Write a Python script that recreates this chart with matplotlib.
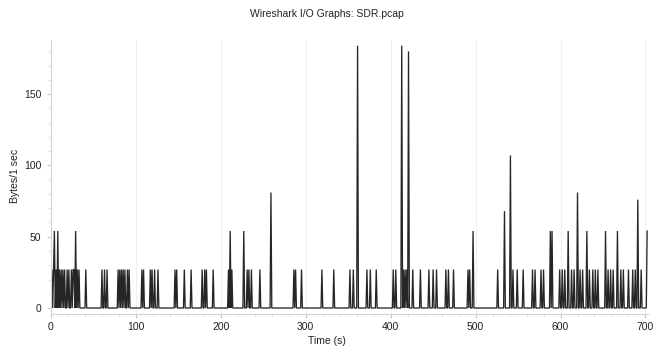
import numpy as np
import matplotlib
matplotlib.use("Agg")
import matplotlib.pyplot as plt

# Non-zero samples (time in s -> bytes per 1 s interval)
spike_times = [1, 3, 4, 6, 8, 10, 12, 14, 16, 19, 21, 24, 26, 27, 29, 31, 33, 41,
               60, 63, 66,
               79, 81, 83, 85, 87, 90, 92,
               107, 109, 117, 119, 122, 126,
               146, 148, 157, 165,
               178, 181, 183, 191,
               209, 211, 213,
               227, 231, 233, 236, 246, 259,
               286, 288, 295, 319, 333, 352, 356, 361,
               372, 376, 383, 403, 406, 413, 415, 417, 419, 421,
               426, 435, 445, 450, 454, 465, 468, 474, 491, 493, 497,
               526, 534, 541, 544, 549, 556, 567, 570, 577, 580, 588, 590,
               599, 602, 605, 609, 613, 616, 620, 623, 626, 631, 634, 638, 641, 644,
               653, 656, 659, 662, 667, 671, 674, 680, 685, 688, 691, 695, 702]
spike_values = [27, 27, 54, 27, 54, 27, 27, 27, 27, 27, 27, 27, 27, 27, 54, 27, 27, 27,
                27, 27, 27,
                27, 27, 27, 27, 27, 27, 27,
                27, 27, 27, 27, 27, 27,
                27, 27, 27, 27,
                27, 27, 27, 27,
                27, 54, 27,
                54, 27, 27, 27, 27, 81,
                27, 27, 27, 27, 27, 27, 27, 184,
                27, 27, 27, 27, 27, 184, 27, 27, 27, 180,
                27, 27, 27, 27, 27, 27, 27, 27, 27, 27, 54,
                27, 68, 107, 27, 27, 27, 27, 27, 27, 27, 54, 54,
                27, 27, 27, 54, 27, 27, 81, 27, 27, 54, 27, 27, 27, 27,
                54, 27, 27, 27, 54, 27, 27, 27, 27, 27, 76, 27, 54]
duration = 702  # last interval start (s)

title = "Wireshark I/O Graphs: SDR.pcap"
x_label = "Time (s)"
y_label = "Bytes/1 sec"
x_ticks = [0, 100, 200, 300, 400, 500, 600, 700]
y_ticks = [0, 50, 100, 150]

t = np.arange(duration + 1)
y = np.zeros(duration + 1)
y[spike_times] = spike_values

plt.rcParams['font.family'] = ['Liberation Sans', 'DejaVu Sans']
fig = plt.figure(figsize=(6.54, 3.47), dpi=100)
ax = fig.add_axes([51/654, 1 - 314/347, 597/654, (314 - 40)/347])

ax.plot(t, y, color='#262626', lw=0.95, solid_joinstyle='miter')
ax.set_xlim(0, 703)
ax.set_ylim(-4.2, 188)

ax.set_xticks(x_ticks)
ax.set_xticks(np.arange(0, 701, 20), minor=True)
ax.set_yticks(y_ticks)
ax.set_yticks(np.arange(0, 181, 10), minor=True)
ax.tick_params(axis='both', which='major', labelsize=7.5, color='#c8c8c8', length=3,
               labelcolor='#222222')
ax.tick_params(axis='both', which='minor', color='#dcdcdc', length=2)
ax.tick_params(axis='x', pad=3)
ax.tick_params(axis='y', pad=4)

for s in ['top', 'right']:
    ax.spines[s].set_visible(False)
for s in ['left', 'bottom']:
    ax.spines[s].set_color('#d4d4d4')
    ax.spines[s].set_linewidth(0.8)

ax.grid(axis='x', which='major', color='#f0f0f0', lw=0.8)
ax.set_axisbelow(True)

fig.text(0.5, 1 - 14/347, title, ha='center', va='center', fontsize=7.5, color='#222222')
fig.text(0.5, 1 - 341/347, x_label, ha='center', va='center', fontsize=7.5, color='#222222')
fig.text(15/654, 1 - 176/347, y_label, ha='center', va='center', rotation=90,
         fontsize=7.5, color='#222222')

fig.savefig('out.png', dpi=100)
